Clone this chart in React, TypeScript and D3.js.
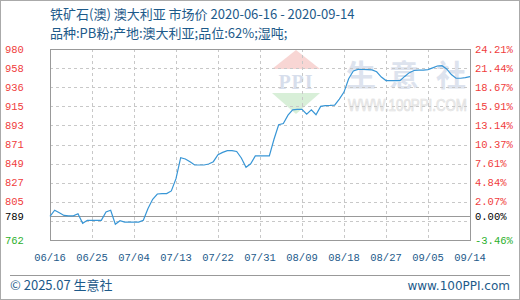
import React from "react";
import * as d3 from "d3";

const startDate = "2020-06-16";
const endDate = "2020-09-14";
const prices: number[] = [
  789, 796, 793, 790, 789.5, 789.5, 792, 781, 784.5, 784.5,
  784.5, 784.5, 794, 796, 780, 784, 782.5, 782.5, 782.5, 782.5,
  784.5, 798, 808.5, 814.5, 815, 815, 818, 832, 856, 854.5,
  851.4, 847.6, 847.6, 847.6, 848.7, 851.4, 859.3, 862, 864, 864,
  863, 855.6, 845, 849, 858, 858, 858, 858, 877, 893.5,
  895, 904.5, 910.5, 911, 911, 905.5, 910.6, 905, 914.5, 915.4,
  915.6, 916, 922.7, 930.8, 946, 955, 956.8, 956.6, 956.4, 956.1,
  954, 948, 944, 943.8, 943.8, 943.8, 948.7, 953, 955.5, 956,
  956, 956.5, 958.5, 960.6, 961, 957.3, 950.8, 946.6, 946.6, 947.3,
  948.4,
];
const xTickLabels = ["06/16", "06/25", "07/04", "07/13", "07/22", "07/31", "08/09", "08/18", "08/27", "09/05", "09/14"];
const gridValues = [980, 958.2, 936.4, 914.6, 892.8, 871, 849.2, 827.4, 805.6, 783.8, 762];
const leftLabels = ["980", "958", "936", "915", "893", "871", "849", "827", "805", "789", "762"];
const labelValues = [980, 958.2, 936.4, 914.6, 892.8, 871, 849.2, 827.4, 805.6, 789, 762];
const rightLabels = ["24.21%", "21.44%", "18.67%", "15.91%", "13.14%", "10.37%", "7.61%", "4.84%", "2.07%", "0.00%", "-3.46%"];
const baseValue = 789;
const titleLine1 = "铁矿石(澳) 澳大利亚 市场价 2020-06-16 - 2020-09-14";
const titleLine2 = "品种:PB粉;产地:澳大利亚;品位:62%;湿吨;";

const W = 520, H = 300;
const L = 50, R = 470, T = 49, B = 240;
const BLUE = "#1d5a8a";
const MONO = "'Liberation Mono', 'DejaVu Sans Mono', monospace";
const CJK = "'Noto Sans CJK SC', 'Noto Sans', sans-serif";

export default function App() {
  const parse = d3.timeParse("%Y-%m-%d");
  const d0 = parse(startDate)!;
  const d1 = parse(endDate)!;
  const x = d3.scaleTime().domain([d0, d1]).range([L, R]);
  const y = d3.scaleLinear().domain([762, 980]).range([B, T]);
  const data = prices.map((v, i) => ({ d: d3.timeDay.offset(d0, i), v }));
  const line = d3.line<{ d: Date; v: number }>().x((p) => x(p.d)).y((p) => y(p.v));
  const tickDates = xTickLabels.map((_, i) => d3.timeDay.offset(d0, i * 9));

  const labelColor = (v: number) => (v > baseValue ? "#f03c3c" : v < baseValue ? "#2bb02b" : "#000");

  return (
    <svg width={W} height={H} style={{ position: "fixed", left: 0, top: 0, background: "#fff" }}>
      <rect x={0.5} y={0.5} width={W - 1} height={H - 1} fill="#fff" stroke="#aaa" />
      {/* title */}
      <text x={L} y={19} fontFamily={CJK} fontSize={13} fill={BLUE}>{titleLine1}</text>
      <text x={L} y={38} fontFamily={CJK} fontSize={13} fill={BLUE}>{titleLine2}</text>

      {/* watermark */}
      <g>
        <polygon points="272,69 296,50 320,69" fill="#f8d6d4" />
        <polygon points="272,93 320,93 296,114" fill="#d8efd8" />
        <text x={296} y={89} textAnchor="middle" fontFamily="'Liberation Serif', serif" fontWeight="bold" fontSize={20} fill="#d7deec" letterSpacing={1}>PPI</text>
        <text x={361} y={86} textAnchor="middle" fontFamily={CJK} fontWeight="bold" fontSize={30} fill="#dde3ee">生</text>
        <text x={404} y={86} textAnchor="middle" fontFamily={CJK} fontWeight="bold" fontSize={30} fill="#dde3ee">意</text>
        <text x={451} y={86} textAnchor="middle" fontFamily={CJK} fontWeight="bold" fontSize={30} fill="#dde3ee">社</text>
        <text transform="translate(348,111) scale(1,1.2)" fontFamily="'Liberation Sans', sans-serif" fontSize={13.3} fill="#eeeeee" stroke="#e2e2e2" strokeWidth={0.6}>WWW.100PPI.COM</text>
      </g>

      {/* grid */}
      {gridValues.map((v, i) => (
        <line key={"h" + i} x1={L} x2={R} y1={Math.round(y(v)) + 0.5} y2={Math.round(y(v)) + 0.5} stroke="#c8c8c8" strokeDasharray="3,3" />
      ))}
      {tickDates.map((d, i) => (
        <line key={"v" + i} x1={Math.round(x(d)) + 0.5} x2={Math.round(x(d)) + 0.5} y1={T} y2={B} stroke="#c8c8c8" strokeDasharray="3,3" />
      ))}
      <line x1={L} x2={R} y1={Math.round(y(baseValue)) + 0.5} y2={Math.round(y(baseValue)) + 0.5} stroke="#999" />
      <rect x={L + 0.5} y={T + 0.5} width={R - L} height={B - T} fill="none" stroke="#999" />

      {/* line */}
      <path d={line(data) || ""} fill="none" stroke="#3896d6" strokeWidth={1.2} />

      {/* left labels */}
      {leftLabels.map((t, i) => (
        <text key={"l" + i} x={5} y={y(labelValues[i])} dy="0.35em" fontFamily={MONO} fontSize={10.5} fill={labelColor(labelValues[i])}>{t}</text>
      ))}
      {rightLabels.map((t, i) => (
        <text key={"r" + i} x={475} y={y(labelValues[i])} dy="0.35em" fontFamily={MONO} fontSize={10.5} fill={labelColor(labelValues[i])}>{t}</text>
      ))}
      {xTickLabels.map((t, i) => (
        <text key={"x" + i} x={x(tickDates[i])} y={257} dy="0.35em" textAnchor="middle" fontFamily={MONO} fontSize={10.5} fill={BLUE}>{t}</text>
      ))}

      {/* footer */}
      <line x1={10} x2={510} y1={275.5} y2={275.5} stroke="#999" />
      <text x={10} y={290} fontFamily={CJK} fontSize={13} fill={BLUE}>© 2025.07 生意社</text>
      <text x={510} y={290} textAnchor="end" fontFamily="'DejaVu Sans', sans-serif" fontSize={12} fill={BLUE}>www.100PPI.com</text>
    </svg>
  );
}
